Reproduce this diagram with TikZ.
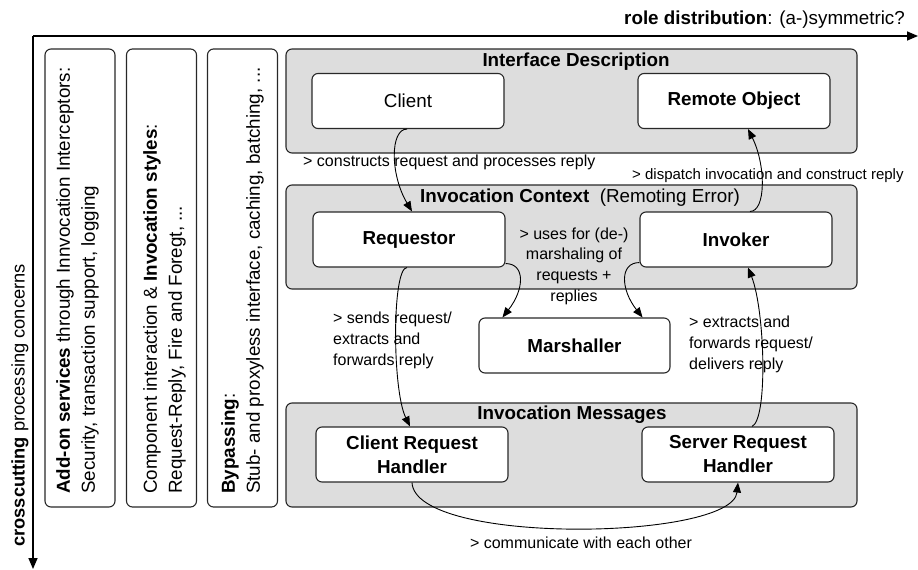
\documentclass[tikz,border=0pt]{standalone}
\usepackage{fontspec}
\setmainfont{Liberation Sans}
\usetikzlibrary{arrows.meta}
\definecolor{cgray}{RGB}{221,221,221}
\definecolor{cline}{RGB}{40,40,40}
\begin{document}
\begin{tikzpicture}[x=1pt,y=-1pt,
  container/.style={draw=cline, fill=cgray, rounded corners=6pt, line width=1.1pt, minimum width=571pt, minimum height=104pt, inner sep=0pt},
  sidebox/.style={draw=cline, fill=white, rounded corners=6pt, line width=1.1pt, minimum width=70pt, minimum height=458pt, inner sep=0pt},
  wbox/.style={draw=cline, fill=white, rounded corners=6pt, line width=1.1pt, minimum width=192pt, minimum height=55pt, align=center, inner sep=2pt, font=\fontsize{18.8}{24}\selectfont},
  sidetext/.style={rotate=90, anchor=west, align=left, inner sep=0pt, font=\fontsize{18.8}{25}\selectfont},
  lbl/.style={inner sep=0pt, font=\fontsize{16}{20.7}\selectfont},
  ttl/.style={inner sep=0pt, font=\fontsize{18.8}{22}\selectfont\bfseries},
  conn/.style={draw=black, line width=0.9pt, -{Triangle[length=10pt,width=8pt]}},
  axis/.style={draw=black, line width=1.5pt, -{Triangle[length=11pt,width=9pt]}},
]
\useasboundingbox (0,0) rectangle (918,570);

% axes
\coordinate (origin) at (33,36);
\coordinate (xend) at (918,36);
\coordinate (yend) at (33,569);
\draw[axis] (origin) -- (xend);
\draw[axis] (origin) -- (yend);
\node[inner sep=0pt, anchor=east, font=\fontsize{18.8}{22}\selectfont] (xlab) at (905,20) {\textbf{role distribution}: (a-)symmetric?};
\node[inner sep=0pt, rotate=90, anchor=west, font=\fontsize{18.3}{22}\selectfont] (ylab) at (20,547) {\textbf{crosscutting} processing concerns};

% side boxes
\node[sidebox] (sb1) at (80,278) {};
\node[sidebox] (sb2) at (161.5,278) {};
\node[sidebox] (sb3) at (242.5,278) {};
\node[sidetext] (st1) at (77.5,494) {\textbf{Add-on services} through Innvocation Interceptors:\\Security, transaction support, logging};
\node[sidetext] (st2) at (164.5,494) {Component interaction \& \textbf{Invocation styles}:\\Request-Reply, Fire and Foregt, ...};
\node[sidetext] (st3) at (242.5,494) {\textbf{Bypassing}:\\Stub- and proxyless interface, caching, batching, ...};

% containers
\node[container] (cid) at (571.5,101) {};
\node[container] (cic) at (571.5,237) {};
\node[container] (cim) at (571.5,455) {};
\node[ttl] (tid) at (576,62) {Interface Description};
\node[ttl] (tic) at (580,198) {Invocation Context\ \ \mdseries(Remoting Error)};
\node[ttl] (tim) at (572,415) {Invocation Messages};

% inner boxes
\node[wbox] (client) at (408,101) {Client};
\node[wbox, font=\fontsize{18.8}{24}\selectfont\bfseries] (ro) at (734,101) {Remote Object};
\node[wbox, font=\fontsize{18.8}{24}\selectfont\bfseries] (req) at (409,239.5) {Requestor};
\node[wbox, font=\fontsize{18.8}{24}\selectfont\bfseries] (inv) at (736,239.5) {Invoker};
\node[wbox, font=\fontsize{18.8}{24}\selectfont\bfseries, minimum width=191pt] (marsh) at (574.5,345.5) {Marshaller};
\node[wbox, font=\fontsize{18.8}{24}\selectfont\bfseries] (crh) at (412,454.5) {Client Request\\Handler};
\node[wbox, font=\fontsize{18.8}{24}\selectfont\bfseries] (srh) at (738,454.5) {Server Request\\Handler};

% labels
\node[lbl, anchor=west] (l1) at (303,162) {> constructs request and processes reply};
\node[lbl, anchor=west, font=\fontsize{15}{20}\selectfont] (l2) at (632,176) {> dispatch invocation and construct reply};
\node[lbl, align=center] (l3) at (574,266) {> uses for (de-)\\marshaling of\\requests +\\replies};
\node[lbl, anchor=west, align=left] (l4) at (333,340.5) {> sends request/\\extracts and\\forwards reply};
\node[lbl, anchor=west, align=left] (l5) at (689,344.5) {> extracts and\\forwards request/\\delivers reply};
\node[lbl] (l6) at (581,543) {> communicate with each other};

% connectors
\draw[conn] ([xshift=-1pt]client.south) .. controls +(-17,0) and +(-22,-37) .. ([xshift=3pt]req.north);
\draw[conn] ([xshift=14pt]inv.north) .. controls +(16,0) and +(18,36) .. ([xshift=14pt]ro.south);
\draw[conn] ([yshift=4pt]req.south east) .. controls +(20,0) and +(22,-28) .. ([xshift=24pt]marsh.north west);
\draw[conn] ([yshift=5pt]inv.south west) .. controls +(-20,0) and +(-22,-28) .. ([xshift=-28pt]marsh.north east);
\draw[conn] ([xshift=-2pt]req.south) .. controls +(-15,0) and +(-18,-37) .. ([xshift=-2pt]crh.north);
\draw[conn] ([xshift=14pt]srh.north) .. controls +(16,-7) and +(17,43) .. ([xshift=12pt]inv.south);
\draw[conn] (crh.south) .. controls +(3,63) and +(-6,58) .. (srh.south);
\end{tikzpicture}
\end{document}
